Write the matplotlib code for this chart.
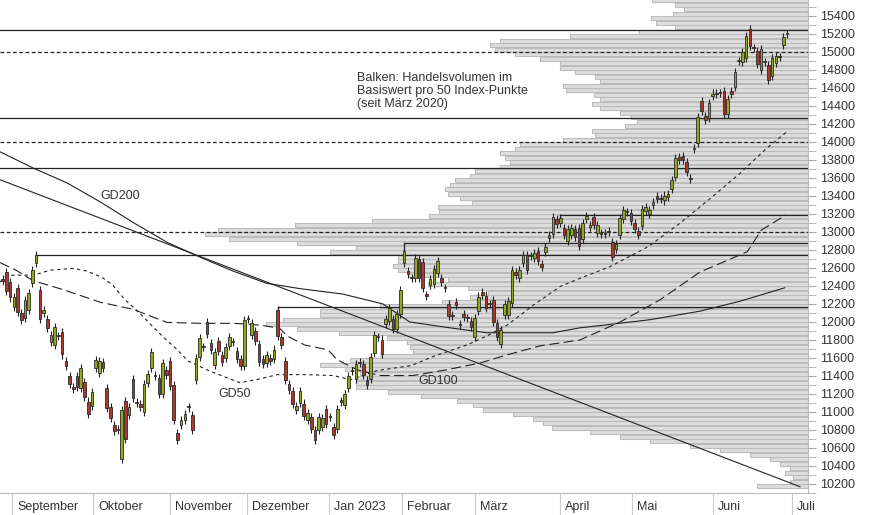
import numpy as np
import matplotlib
matplotlib.use("Agg")
import matplotlib.pyplot as plt
from matplotlib.transforms import blended_transform_factory

plt.rcParams["font.family"] = ["Liberation Sans", "DejaVu Sans"]

# daily candles (index = trading day since end of August 2022)
opens = [12480, 12559, 12441, 12162, 12382, 12099, 12044, 12136, 12430, 12651,
         12357, 12095, 12033, 11779, 11749, 11845, 11889, 11565, 11396, 11282,
         11404, 11271, 11334, 11116, 11069, 11492, 11437, 11558, 11271, 11050,
         10859, 10808, 10480, 11124, 10966, 11363, 11106, 11087, 11002, 11326,
         11492, 11408, 11381, 11197, 11462, 11565, 11297, 10763, 10859, 10910,
         11054, 10969, 11352, 11610, 11724, 11996, 11768, 11521, 11786, 11628,
         11602, 11731, 11779, 11676, 11591, 11510, 12037, 11852, 11897, 11760,
         11584, 11547, 11595, 11584, 12136, 11830, 11565, 11315, 11234, 11021,
         11105, 11094, 10914, 10940, 10804, 10800, 10837, 11032, 10944, 10829,
         10811, 11120, 11076, 11264, 11459, 11363, 11551, 11529, 11352, 11363,
         11657, 11834, 11805, 11978, 12007, 12036, 11922, 12088, 12651, 12570,
         12489, 12485, 12699, 12669, 12298, 12412, 12419, 12541, 12485, 12379,
         12198, 12074, 12217, 11974, 12092, 12048, 12014, 11830, 12117, 12338,
         12294, 12202, 12246, 11989, 11757, 12081, 12081, 12209, 12559, 12485,
         12651, 12743, 12736, 12706, 12787, 12644, 12773, 12934, 12982, 13148,
         13104, 13045, 12897, 12964, 13037, 13045, 12927, 13148, 13056, 13166,
         12993, 12983, 12986, 13005, 12890, 12809, 12971, 13140, 13225, 13214,
         13104, 13008, 13067, 13236, 13203, 13302, 13398, 13373, 13350, 13387,
         13479, 13608, 13829, 13840, 13773, 13594, 13924, 13987, 14454, 14289,
         14270, 14509, 14534, 14544, 14565, 14307, 14565, 14612, 14900, 14885,
         14933, 15253, 15047, 15006, 14796, 14889, 14859, 14730, 14877, 14948,
         15080, 15197]
closes = [12460, 12346, 12272, 12272, 12110, 12025, 12246, 12320, 12577, 12743,
          12036, 12132, 11933, 11860, 11941, 11841, 11639, 11510, 11308, 11253,
          11278, 11492, 11168, 10977, 11227, 11576, 11565, 11492, 11043, 10932,
          10793, 10804, 11024, 10701, 11058, 11153, 11102, 11058, 11308, 11426,
          11668, 11404, 11197, 11547, 11411, 11289, 10914, 10690, 10910, 10977,
          11050, 10800, 11602, 11823, 11720, 11871, 11694, 11665, 11683, 11554,
          11720, 11830, 11775, 11584, 11510, 12025, 12033, 11985, 11786, 11558,
          11529, 11632, 11565, 11694, 11841, 11742, 11352, 11242, 11094, 11069,
          11234, 10958, 10988, 10811, 10690, 10947, 10929, 10866, 10940, 10748,
          11032, 11116, 11197, 11400, 11455, 11529, 11547, 11411, 11300, 11610,
          11860, 11830, 11646, 12036, 12154, 11922, 12088, 12357, 12787, 12530,
          12485, 12714, 12493, 12382, 12294, 12478, 12589, 12681, 12449, 12375,
          12062, 12070, 12184, 11970, 12059, 12044, 11941, 12044, 12283, 12301,
          12154, 12198, 12000, 11830, 11915, 12198, 12235, 12577, 12522, 12577,
          12743, 12577, 12732, 12761, 12677, 12614, 12835, 12964, 13166, 13093,
          13155, 12971, 13037, 13045, 12945, 12846, 13104, 13177, 13081, 13081,
          13081, 12979, 12982, 13001, 12725, 12861, 13155, 13240, 13221, 13118,
          13037, 12971, 13251, 13277, 13240, 13332, 13369, 13369, 13405, 13424,
          13582, 13821, 13803, 13799, 13663, 13590, 13928, 14281, 14344, 14244,
          14428, 14538, 14538, 14540, 14307, 14480, 14528, 14774, 14896, 14995,
          15179, 15069, 15043, 14870, 15032, 14885, 14686, 14933, 14951, 14944,
          15164, 15201]

# moving averages: (trading day, value)
gd50_x = [-0.7, 0.6, 2.8, 8.3, 12.7, 18.9, 22.8, 26.9, 29.6, 32.8, 35.8, 39.5, 43.0, 46.5, 49.9, 52.3,
          55.7, 63.8, 68.4, 73.9, 81.9, 88.9, 93.6, 96.9, 100.7, 109.9, 115.7, 124.9, 130.3, 135.7,
          142.7, 150.0, 155.3, 163.4, 173.6, 182.3, 190.3, 198.3, 205.4, 211.0]
gd50_y = [12445, 12500, 12520, 12520, 12575, 12595, 12565, 12490, 12410, 12250, 12140, 11985,
          11840, 11710, 11565, 11520, 11455, 11325, 11360, 11415, 11415, 11405, 11360, 11405,
          11460, 11515, 11615, 11745, 11845, 11965, 12185, 12395, 12485, 12615, 12835, 13100,
          13370, 13650, 13925, 14115]
gd100_x = [-0.7, 3.8, 8.1, 16.2, 26.2, 35.1, 44.2, 53.1, 62.2, 69.2, 74.5, 76.5, 81.2, 87.5, 90.0,
           95.3, 101.5, 110.4, 119.6, 128.5, 135.7, 144.6, 155.3, 166.1, 176.8, 187.6, 200.3, 204.1,
           207.6, 210.7]
gd100_y = [12660, 12570, 12460, 12360, 12220, 12140, 11995, 11985, 11985, 11965, 11930, 11845,
           11745, 11690, 11580, 11470, 11405, 11405, 11470, 11545, 11635, 11735, 11800, 12000,
           12245, 12555, 12780, 13020, 13110, 13190]
gd200_x = [-0.7, 8.2, 17.3, 26.2, 35.1, 44.2, 53.1, 62.0, 71.0, 80.0, 91.5, 102.3, 109.5, 120.3,
           130.2, 142.6, 148.0, 155.3, 160.7, 174.1, 187.6, 198.3, 210.4]
gd200_y = [13890, 13710, 13545, 13335, 13105, 12885, 12720, 12565, 12430, 12370, 12310, 12200,
           12000, 11935, 11880, 11880, 11880, 11935, 11960, 12025, 12120, 12230, 12380]

# straight trend line
trend_x = [-0.7, 214.5]
trend_y = [13580, 10170]

# horizontal marks: price, first day, style
hline_prices = [15245, 15000, 14263, 14000, 13707, 13192, 13000, 12872, 12747, 12165]
hline_starts = [-0.7, -0.7, -0.7, -0.7, -0.7, 150.0, -0.7, 108.0, 9.0, 74.0]
hline_dotted = [False, True, False, True, False, False, True, False, False, False]

# volume profile: traded volume per 50 index points (bottom of band, volume)
vol_levels = list(range(10150, 15600, 50))
vol_values = [51, 18, 15, 23, 18, 28, 38, 58, 88, 118, 158, 188, 218, 256, 265, 275, 295, 325,
              335, 351, 387, 420, 452, 452, 451, 448, 463, 488, 458, 428, 395, 398, 401, 421,
              469, 511, 542, 525, 488, 488, 428, 366, 338, 320, 340, 380, 360, 400, 410, 415,
              410, 410, 478, 452, 511, 579, 603, 590, 513, 436, 379, 369, 370, 336, 348, 360,
              363, 358, 353, 338, 333, 308, 298, 303, 308, 293, 288, 245, 213, 216, 183, 171,
              177, 188, 208, 216, 208, 214, 242, 245, 208, 213, 233, 248, 248, 268, 293, 313,
              318, 308, 238, 169, 133, 152, 157, 135, 124, 133, 156]

month_pos = [2.5, 24.3, 45.0, 65.7, 87.8, 107.4, 127.1, 149.9, 169.3, 191.1, 212.3]
month_names = ["September", "Oktober", "November", "Dezember", "Jan 2023", "Februar",
               "März", "April", "Mai", "Juni", "Juli"]

PX = 3.717  # pixels per trading day
x_min, x_max = -0.73, 216.65
y_min, y_max = 10134, 15577

fig = plt.figure(figsize=(8.74, 5.15), dpi=100)
ax = fig.add_axes([0, 22 / 515, 808 / 874, 493 / 515])
ax.set_xlim(x_min, x_max)
ax.set_ylim(y_min, y_max)

# volume bars from the right edge
vols = np.array(vol_values) / PX
ax.barh(np.array(vol_levels) + 25, vols, left=x_max - vols, height=44,
        color="#dddddd", edgecolor="#bcbcbc", linewidth=0.8, zorder=1)

for p, s, d in zip(hline_prices, hline_starts, hline_dotted):
    ax.plot([s, x_max], [p, p], color="#222222", lw=0.9,
            ls=(0, (3, 2)) if d else "-", zorder=2)
    if s > 0:
        ax.plot([s, s], [p, p - 70], color="#222222", lw=0.9, zorder=2)

ax.plot(trend_x, trend_y, color="#222222", lw=0.8, zorder=3)
ax.plot(gd200_x, gd200_y, color="#222222", lw=0.8, zorder=3)
ax.plot(gd100_x, gd100_y, color="#222222", lw=0.8, ls=(0, (9, 4)), zorder=3)
ax.plot(gd50_x, gd50_y, color="#222222", lw=0.8, ls=(0, (3, 3)), zorder=3)

o = np.array(opens)
c = np.array(closes)
idx = np.arange(len(c))
top = np.maximum(o, c)
bot = np.minimum(o, c)
ax.vlines(idx, bot - 45, top + 45, color="#222222", lw=0.8, zorder=4)
up = c >= o
body = np.maximum(top - bot, 12)
ax.bar(idx[up], body[up], bottom=bot[up], width=0.7, color="#93a81c",
       edgecolor="#2a2a2a", linewidth=0.6, zorder=5)
ax.bar(idx[~up], body[~up], bottom=bot[~up], width=0.7, color="#b2362b",
       edgecolor="#2a2a2a", linewidth=0.6, zorder=5)

tc = "#333333"
ax.text(26.4, 13402, "GD200", fontsize=9, color=tc, va="center", zorder=6)
ax.text(57.9, 11205, "GD50", fontsize=9, color=tc, va="center", zorder=6)
ax.text(111.7, 11348, "GD100", fontsize=9, color=tc, va="center", zorder=6)
ax.text(95.3, 14780, "Balken: Handelsvolumen im\nBasiswert pro 50 Index-Punkte\n(seit März 2020)",
        fontsize=9, color=tc, va="top", linespacing=1.1, zorder=6)

# axes styling
for side in ["top", "left"]:
    ax.spines[side].set_visible(False)
ax.spines["right"].set_color("#bbbbbb")
ax.spines["bottom"].set_color("#bbbbbb")
ax.yaxis.tick_right()
ax.set_yticks(np.arange(10200, 15401, 200))
ax.set_yticks(np.arange(10100, 15501, 200), minor=True)
ax.tick_params(axis="y", which="both", length=6, color="#aaaaaa", labelsize=9,
               labelcolor=tc, pad=3)
ax.set_xticks(month_pos)
ax.set_xticklabels([])
ax.tick_params(axis="x", length=22, color="#cccccc", width=0.8)
trans = blended_transform_factory(ax.transData, ax.transAxes)
for pos, name in zip(month_pos, month_names):
    ax.annotate(name, xy=(pos, 0), xycoords=trans, xytext=(5, -14),
                textcoords="offset pixels", fontsize=9, color=tc,
                va="center", ha="left")

fig.savefig("out.png", dpi=100)
